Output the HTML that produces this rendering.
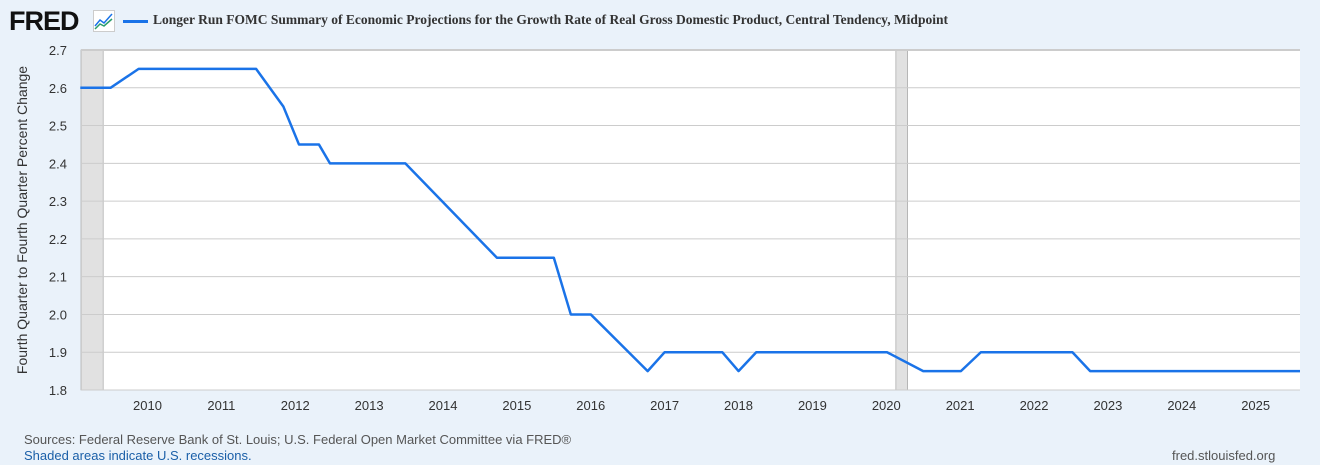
<!DOCTYPE html>
<html><head><meta charset="utf-8"><style>
body{margin:0;width:1320px;height:465px;background:#eaf2fa;font-family:"Liberation Sans",sans-serif;overflow:hidden;position:relative}
.t{position:absolute;white-space:nowrap}
</style></head><body>
<div class="t" style="left:9px;top:6px;font-size:27px;font-weight:bold;color:#111;letter-spacing:-1px">FRED</div>
<svg style="position:absolute;left:93px;top:10px" width="22" height="22"><rect x="0.5" y="0.5" width="21" height="21" fill="#fff" stroke="#ccc"/><polyline points="2,16 7,10 11,13 19,4" fill="none" stroke="#1a73e8" stroke-width="1.5"/><polyline points="2,19 7,14 11,16 19,9" fill="none" stroke="#2a9d6a" stroke-width="1.5"/></svg>
<div style="position:absolute;left:123px;top:20px;width:25px;height:3px;background:#1a73e8"></div>
<div class="t" style="left:153px;top:12px;font-size:13.5px;font-weight:bold;font-family:'Liberation Serif',serif;color:#333">Longer Run FOMC Summary of Economic Projections for the Growth Rate of Real Gross Domestic Product, Central Tendency, Midpoint</div>
<svg id="c" style="position:absolute;left:0;top:0" width="1320" height="465"></svg>
<div class="t" style="left:22px;top:220px;font-size:14px;color:#333;transform:translate(-50%,-50%) rotate(-90deg);transform-origin:center;left:22px">Fourth Quarter to Fourth Quarter Percent Change</div>
<div class="t" style="left:24px;top:432px;font-size:13px;color:#555">Sources: Federal Reserve Bank of St. Louis; U.S. Federal Open Market Committee via FRED®</div>
<div class="t" style="left:24px;top:448px;font-size:13px;color:#1a5fa8">Shaded areas indicate U.S. recessions.</div>
<div class="t" style="left:1172px;top:448px;font-size:13px;color:#555">fred.stlouisfed.org</div>
<script>
const yTicks=[1.8,1.9,2.0,2.1,2.2,2.3,2.4,2.5,2.6,2.7];
const xTicks=[2010,2011,2012,2013,2014,2015,2016,2017,2018,2019,2020,2021,2022,2023,2024,2025];
const recessions=[[2008.9,2009.4],[2020.13,2020.29]];
const dates=[2009.09,2009.5,2009.88,2011.47,2011.84,2012.05,2012.32,2012.47,2013.49,2014.73,2015.5,2015.73,2016.0,2016.77,2017.0,2017.78,2018.0,2018.24,2020.01,2020.5,2021.01,2021.28,2022.52,2022.76,2025.6];
const values=[2.6,2.6,2.65,2.65,2.55,2.45,2.45,2.4,2.4,2.15,2.15,2.0,2.0,1.85,1.9,1.9,1.85,1.9,1.9,1.85,1.85,1.9,1.9,1.85,1.85];
const L=81,R=1300,T=50,B=390,x0=2009.1,x1=2025.6;
const X=d=>L+(d-x0)/(x1-x0)*(R-L), Y=v=>B-(v-1.8)/0.9*(B-T);
const s=document.getElementById('c'),N='http://www.w3.org/2000/svg';
function mk(t,a,p){const e=document.createElementNS(N,t);for(const k in a)e.setAttribute(k,a[k]);(p||s).appendChild(e);return e;}
const bg=mk('rect',{x:L,y:T,width:R-L,height:B-T,fill:'#fff'});


recessions.forEach(r=>{const a=Math.max(X(r[0]),L);const e=mk('rect',{x:a,y:T,width:X(r[1])-a,height:B-T,fill:'#e1e1e1',stroke:'#999','stroke-width':0.6});

});
yTicks.forEach(v=>{const g=mk('line',{x1:L,x2:R,y1:Y(v),y2:Y(v),stroke:'#ccc','stroke-width':v==2.7?2:1});


const t=mk('text',{x:67,y:Y(v)+5,'text-anchor':'end','font-size':13,fill:'#333','font-family':'Liberation Sans'});t.textContent=v.toFixed(1);

});
xTicks.forEach(d=>{const t=mk('text',{x:X(d),y:410,'text-anchor':'middle','font-size':13,fill:'#333','font-family':'Liberation Sans'});t.textContent=d;

});
const p=mk('polyline',{points:dates.map((d,i)=>X(d)+','+Y(values[i])).join(' '),fill:'none',stroke:'#1a73e8','stroke-width':2.5,'stroke-linejoin':'round'});


</script>
</body></html>
